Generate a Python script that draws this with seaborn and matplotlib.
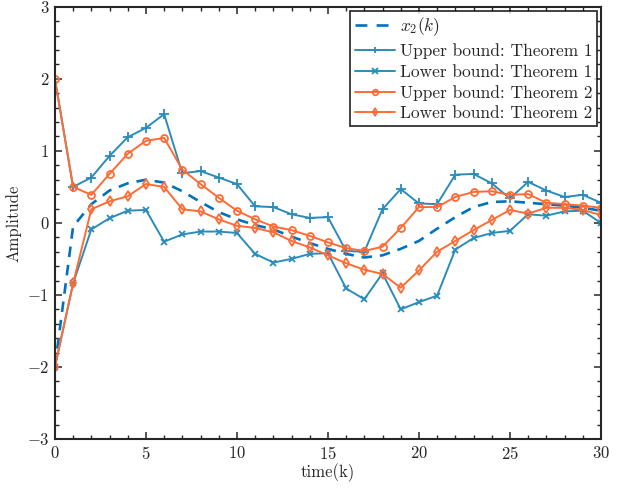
import numpy as np
import pandas as pd
import matplotlib
matplotlib.use("Agg")
import matplotlib.pyplot as plt
import seaborn as sns
from matplotlib.ticker import MultipleLocator

# time steps
k = list(range(31))

# state trajectory x2(k)
x2 = [-2.0, -0.05, 0.26, 0.45, 0.55, 0.60, 0.56, 0.44, 0.29, 0.15,
      0.05, -0.03, -0.09, -0.19, -0.28, -0.36, -0.43, -0.48, -0.45, -0.36,
      -0.25, -0.08, 0.08, 0.22, 0.29, 0.30, 0.28, 0.26, 0.24, 0.21, 0.17]

# bounds from Theorem 1
up_t1 = [2.0, 0.50, 0.63, 0.93, 1.19, 1.32, 1.51, 0.69, 0.72, 0.63,
         0.54, 0.23, 0.22, 0.12, 0.07, 0.08, -0.39, -0.40, 0.19, 0.47,
         0.27, 0.26, 0.67, 0.68, 0.55, 0.34, 0.57, 0.45, 0.36, 0.39, 0.28]
lo_t1 = [-2.0, -0.84, -0.09, 0.065, 0.17, 0.18, -0.26, -0.16, -0.12, -0.12,
         -0.14, -0.43, -0.55, -0.50, -0.43, -0.42, -0.91, -1.06, -0.70, -1.20,
         -1.10, -1.01, -0.37, -0.21, -0.14, -0.11, 0.12, 0.10, 0.16, 0.17, 0.00]

# bounds from Theorem 2
up_t2 = [2.0, 0.50, 0.39, 0.68, 0.96, 1.14, 1.18, 0.74, 0.54, 0.35,
         0.17, 0.05, -0.05, -0.10, -0.18, -0.27, -0.35, -0.39, -0.33, -0.07,
         0.22, 0.22, 0.36, 0.43, 0.44, 0.39, 0.40, 0.28, 0.26, 0.24, 0.21]
lo_t2 = [-2.0, -0.84, 0.19, 0.30, 0.37, 0.54, 0.50, 0.19, 0.16, 0.05,
         -0.04, -0.07, -0.13, -0.25, -0.34, -0.45, -0.56, -0.65, -0.71, -0.90,
         -0.66, -0.40, -0.25, -0.10, 0.04, 0.18, 0.13, 0.21, 0.21, 0.18, 0.11]

sns.set_style("ticks")
plt.rcParams.update({
    "font.family": ["cmr10", "DejaVu Serif"],
    "mathtext.fontset": "cm",
    "axes.unicode_minus": False,
    "axes.formatter.use_mathtext": True,
    "xtick.direction": "in",
    "ytick.direction": "in",
    "xtick.top": True,
    "ytick.right": True,
})

blue = "#0072BD"
blue2 = "#2B8CBB"
orange = "#FF6B35"

fig = plt.figure(figsize=(6.24, 4.91), dpi=100)
ax = fig.add_axes([0.088, 0.106, 0.875, 0.880])

sns.lineplot(x=k, y=x2, ax=ax, color=blue, lw=1.9, label=r"$x_2(k)$")
ax.lines[-1].set_dashes((4, 3))
sns.lineplot(x=k, y=up_t1, ax=ax, color=blue2, lw=1.4, marker="+",
             markersize=7, mec=blue2, mew=1.3, label="Upper bound: Theorem 1")
sns.lineplot(x=k, y=lo_t1, ax=ax, color=blue2, lw=1.4, marker="x",
             markersize=5, mec=blue2, mew=1.3, label="Lower bound: Theorem 1")
sns.lineplot(x=k, y=up_t2, ax=ax, color=orange, lw=1.4, marker="o",
             markersize=5, mfc="none", mec=orange, mew=1.3,
             label="Upper bound: Theorem 2")
sns.lineplot(x=k, y=lo_t2, ax=ax, color=orange, lw=1.4, marker="d",
             markersize=5.5, mfc="none", mec=orange, mew=1.3,
             label="Lower bound: Theorem 2")

ax.set_xlim(0, 30)
ax.set_ylim(-3, 3)
ax.xaxis.set_major_locator(MultipleLocator(5))
ax.xaxis.set_minor_locator(MultipleLocator(1))
ax.yaxis.set_major_locator(MultipleLocator(1))
ax.yaxis.set_minor_locator(MultipleLocator(0.2))
ax.tick_params(which="major", length=5, width=1.1, labelsize=12, pad=4,
               top=True, right=True)
ax.tick_params(which="minor", length=3, width=1.0, top=True, right=True)
for sp in ax.spines.values():
    sp.set_linewidth(1.5)
    sp.set_color("#262626")

ax.set_xlabel("time(k)", fontsize=12, labelpad=1)
ax.set_ylabel("Amplitude", fontsize=12, labelpad=4)

leg = ax.legend(loc="upper right", fontsize=12.5, frameon=True, fancybox=False,
                borderpad=0.25, labelspacing=0.3, handlelength=2.3,
                handletextpad=0.3, borderaxespad=0.25)
leg.get_frame().set_edgecolor("black")
leg.get_frame().set_linewidth(1.3)
leg.legend_handles[0].set_dashes((4.5, 3.5))
for h in leg.legend_handles[1:]:
    h.set_markersize(4)

fig.savefig("out.png", dpi=100)
